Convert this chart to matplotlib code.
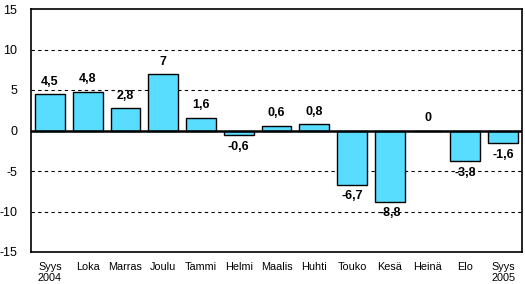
import matplotlib.pyplot as plt

months = ["Syys\n2004", "Loka", "Marras", "Joulu", "Tammi", "Helmi", "Maalis",
          "Huhti", "Touko", "Kesä", "Heinä", "Elo", "Syys\n2005"]
values = [4.5, 4.8, 2.8, 7, 1.6, -0.6, 0.6, 0.8, -6.7, -8.8, 0, -3.8, -1.6]
labels = ["4,5", "4,8", "2,8", "7", "1,6", "-0,6", "0,6", "0,8", "-6,7", "-8,8", "0", "-3,8", "-1,6"]

plt.rcParams['font.family'] = ['Liberation Sans', 'DejaVu Sans']

fig = plt.figure(figsize=(5.25, 2.84), dpi=100)
ax = fig.add_axes([31 / 525, 1 - 252 / 284, 491 / 525, 243 / 284])

x = range(len(values))
ax.bar(x, values, width=0.79, color="#58DCFF", edgecolor="black", linewidth=1, zorder=3)

# value labels
for i, (v, t) in enumerate(zip(values, labels)):
    if v >= 0:
        ax.annotate(t, (i, v), xytext=(0, 4.5), textcoords="offset points",
                    ha="center", va="bottom", fontsize=9, fontweight="bold", zorder=4)
    else:
        ax.annotate(t, (i, v), xytext=(0, -4), textcoords="offset points",
                    ha="center", va="top", fontsize=9, fontweight="bold", zorder=4)

ax.set_xlim(-0.5, len(values) - 0.5)
ax.set_ylim(-15, 15)
ax.set_yticks([-15, -10, -5, 0, 5, 10, 15])
ax.set_yticklabels(["-15", "-10", "-5", "0", "5", "10", "15"], fontsize=9)
ax.set_xticks(list(x))
ax.set_xticklabels(months, fontsize=7.8, linespacing=1.1)
ax.tick_params(length=0, pad=7)
ax.tick_params(axis="y", pad=10)

for y in [-10, -5, 5, 10]:
    ax.axhline(y, color="black", linestyle=(0, (3, 3)), linewidth=0.8, zorder=1)
ax.axhline(0, color="black", linewidth=1.8, zorder=4)

for s in ax.spines.values():
    s.set_linewidth(1.2)

fig.savefig("out.png", dpi=100)
